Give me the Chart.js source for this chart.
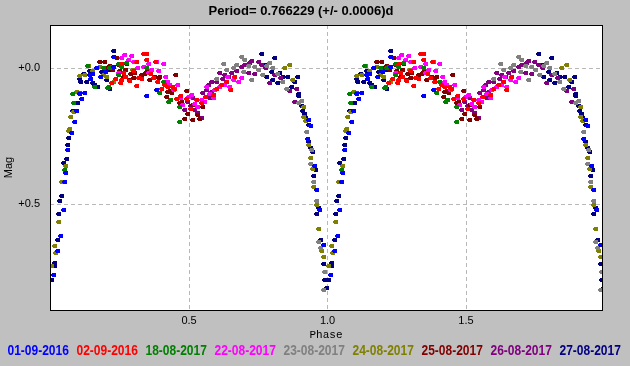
<!DOCTYPE html>
<html>
<head>
<meta charset="utf-8">
<script src="https://cdn.jsdelivr.net/npm/chart.js@4/dist/chart.umd.min.js"></script>
<style>
html,body{margin:0;padding:0;background:#c0c0c0;}
canvas{display:block;}
</style>
</head>
<body>
<canvas id="c" width="630" height="366"></canvas>
<script>
// ---------- data ----------
const titleText = 'Period= 0.766229 (+/- 0.0006)d';
const xAxisTitle = 'Phase';
const yAxisTitle = 'Mag';
const xTickValues = [0.5, 1.0, 1.5];
const xTickLabels = ['0.5', '1.0', '1.5'];
const yTickValues = [0.0, 0.5];
const yTickLabels = ['+0.0', '+0.5'];
const seriesLabels = ['01-09-2016','02-09-2016','18-08-2017','22-08-2017','23-08-2017','24-08-2017','25-08-2017','26-08-2017','27-08-2017'];
const seriesColors = ['#0000ff','#ff0000','#008000','#ff00ff','#808080','#808000','#800000','#800080','#000080'];

// [phase, mag] pairs, one cycle (plotted again at phase+1)
const d01_09_2016 = [[0.009,0.762],[0.025,0.674],[0.037,0.617],[0.045,0.523],[0.051,0.420],[0.054,0.384],[0.061,0.300],[0.075,0.239],[0.087,0.196],[0.093,0.156],[0.105,0.095],[0.111,0.114],[0.123,0.090],[0.139,0.025],[0.146,0.040],[0.153,0.021],[0.166,0.000],[0.180,0.030],[0.200,0.012],[0.226,-0.006],[0.228,-0.043],[0.348,0.102],[0.382,0.080],[0.926,0.261],[0.933,0.190],[0.939,0.212],[0.954,0.359],[0.962,0.447],[0.972,0.523],[0.986,0.650]];
const d02_09_2016 = [[0.220,0.055],[0.235,0.040],[0.252,0.055],[0.256,-0.018],[0.256,0.043],[0.262,0.018],[0.270,0.030],[0.285,0.045],[0.298,0.008],[0.310,-0.024],[0.311,0.066],[0.318,0.035],[0.328,0.040],[0.336,-0.053],[0.346,-0.031],[0.346,-0.055],[0.360,0.020],[0.372,0.035],[0.380,-0.024],[0.385,0.050],[0.400,0.077],[0.412,0.060],[0.424,0.070],[0.442,0.068],[0.448,0.074],[0.455,0.114],[0.470,0.100],[0.490,0.114],[0.505,0.150],[0.527,0.117],[0.545,0.129],[0.560,0.105],[0.587,0.098],[0.600,0.075],[0.618,0.060],[0.635,0.049],[0.648,0.080],[0.665,0.031]];
const d18_08_2017 = [[0.050,0.374],[0.074,0.237],[0.081,0.096],[0.084,0.126],[0.105,0.090],[0.132,-0.010],[0.160,0.068],[0.190,0.000],[0.205,0.071],[0.208,0.068],[0.214,0.000],[0.220,-0.006],[0.244,0.025],[0.244,-0.018],[0.256,-0.006],[0.274,-0.021],[0.346,0.000],[0.394,0.092],[0.406,0.049],[0.427,0.123],[0.433,0.118],[0.466,0.141],[0.466,0.196]];
const d22_08_2017 = [[0.244,0.018],[0.255,-0.040],[0.268,-0.049],[0.280,-0.030],[0.292,-0.045],[0.298,-0.024],[0.315,0.000],[0.334,-0.006],[0.352,0.018],[0.352,-0.016],[0.365,0.005],[0.382,-0.024],[0.390,0.009],[0.406,-0.016],[0.415,0.030],[0.424,0.049],[0.430,0.061],[0.445,0.080],[0.460,0.061],[0.470,0.110],[0.478,0.135],[0.497,0.104],[0.509,0.098],[0.520,0.130],[0.532,0.141],[0.545,0.115],[0.557,0.123],[0.563,0.068],[0.575,0.095],[0.587,0.110],[0.593,0.080],[0.610,0.070],[0.629,0.061],[0.639,0.031],[0.647,0.068],[0.659,0.043],[0.677,0.049],[0.690,0.035]];
const d23_08_2017 = [[0.600,0.040],[0.623,-0.018],[0.635,0.006],[0.660,0.000],[0.671,-0.012],[0.689,-0.043],[0.695,0.012],[0.700,-0.030],[0.715,-0.010],[0.725,0.043],[0.737,-0.006],[0.750,0.005],[0.765,0.025],[0.780,-0.010],[0.791,-0.021],[0.803,0.000],[0.820,0.020],[0.839,0.049],[0.852,0.077],[0.897,0.129],[0.906,0.119],[0.924,0.233],[0.938,0.353],[0.942,0.300],[0.950,0.420],[0.960,0.490],[0.966,0.638],[0.974,0.662],[0.984,0.815],[0.990,0.751]];
const d24_08_2017 = [[0.003,0.729],[0.013,0.656],[0.019,0.680],[0.027,0.564],[0.039,0.417],[0.054,0.358],[0.066,0.229],[0.069,0.223],[0.072,0.180],[0.084,0.160],[0.093,0.086],[0.105,0.028],[0.123,0.025],[0.132,-0.010],[0.136,-0.008],[0.150,0.010],[0.178,-0.006],[0.190,0.025],[0.202,0.031],[0.226,0.049],[0.296,0.006],[0.846,0.000],[0.864,-0.012],[0.875,0.043],[0.912,0.141],[0.912,0.180],[0.921,0.193],[0.924,0.190],[0.930,0.282],[0.939,0.331],[0.945,0.371],[0.950,0.435],[0.962,0.503],[0.969,0.592],[0.978,0.674],[0.986,0.695]];
const d25_08_2017 = [[0.178,-0.024],[0.196,-0.024],[0.200,0.000],[0.212,-0.010],[0.225,0.005],[0.238,-0.040],[0.244,-0.012],[0.250,0.010],[0.262,0.030],[0.270,0.005],[0.274,-0.016],[0.286,0.043],[0.290,0.020],[0.300,0.035],[0.304,0.018],[0.322,0.037],[0.330,0.025],[0.340,0.020],[0.346,-0.031],[0.346,0.012],[0.358,0.043],[0.376,0.031],[0.388,0.037],[0.394,0.031],[0.418,0.104],[0.424,0.086],[0.430,0.082],[0.436,0.092],[0.451,0.025],[0.466,0.129],[0.473,0.123],[0.484,0.188],[0.490,0.082],[0.496,0.168],[0.514,0.135],[0.514,0.190],[0.532,0.172],[0.539,0.188],[0.550,0.141]];
const d26_08_2017 = [[0.484,0.153],[0.496,0.123],[0.505,0.140],[0.514,0.110],[0.520,0.153],[0.530,0.165],[0.545,0.184],[0.550,0.092],[0.563,0.080],[0.569,0.061],[0.575,0.110],[0.581,0.086],[0.581,0.049],[0.599,0.049],[0.611,0.018],[0.620,0.040],[0.629,0.025],[0.641,0.031],[0.653,0.018],[0.659,0.043],[0.670,0.010],[0.689,-0.006],[0.695,0.012],[0.701,-0.012],[0.713,0.018],[0.718,-0.020],[0.725,-0.028],[0.737,0.020],[0.749,-0.024],[0.761,-0.012],[0.775,0.000],[0.791,0.055],[0.809,0.025],[0.830,0.035],[0.864,0.082],[0.882,0.123],[0.888,0.077]];
const d27_08_2017 = [[0.003,0.778],[0.013,0.715],[0.015,0.729],[0.025,0.631],[0.027,0.537],[0.033,0.487],[0.039,0.469],[0.045,0.347],[0.057,0.333],[0.061,0.282],[0.066,0.256],[0.079,0.156],[0.099,0.129],[0.104,0.040],[0.108,0.049],[0.118,0.020],[0.130,0.049],[0.141,0.009],[0.151,0.055],[0.160,0.061],[0.171,0.068],[0.184,0.012],[0.202,0.043],[0.208,0.006],[0.214,0.074],[0.228,-0.065],[0.761,-0.053],[0.777,-0.012],[0.779,0.031],[0.797,0.012],[0.803,0.043],[0.809,-0.040],[0.821,0.055],[0.827,0.018],[0.839,0.031],[0.857,0.031],[0.870,0.068],[0.882,0.049],[0.893,0.031],[0.897,0.094],[0.897,0.102],[0.906,0.139],[0.909,0.156],[0.918,0.168],[0.921,0.184],[0.930,0.208],[0.933,0.270],[0.938,0.294],[0.945,0.307],[0.950,0.396],[0.957,0.376],[0.962,0.536],[0.969,0.515],[0.974,0.631],[0.984,0.720],[0.990,0.778],[0.998,0.809]];

const seriesData = [d01_09_2016,d02_09_2016,d18_08_2017,d22_08_2017,d23_08_2017,d24_08_2017,d25_08_2017,d26_08_2017,d27_08_2017];

// ---------- helpers ----------
function marker(color){
  const c = document.createElement('canvas');
  c.width = 5; c.height = 4;
  const g = c.getContext('2d');
  g.fillStyle = color;
  g.fillRect(1,0,4,4);
  g.fillRect(0,1,1,2);
  return c;
}
function twoCycles(pts){
  return pts.map(p => ({x:p[0], y:p[1]})).concat(pts.map(p => ({x:p[0]+1, y:p[1]})));
}

const FONT = "'Liberation Sans', Arial, sans-serif";

const datasets = seriesData.map((pts,i) => ({
  label: seriesLabels[i],
  data: twoCycles(pts),
  pointStyle: marker(seriesColors[i]),
  pointRadius: 2,
  pointBorderWidth: 0,
  backgroundColor: seriesColors[i],
  borderColor: seriesColors[i],
  showLine: false
}));

const framePlugin = {
  id: 'frame',
  beforeDraw(chart){
    const {ctx, chartArea:a} = chart;
    ctx.save();
    ctx.fillStyle = '#c0c0c0';
    ctx.fillRect(0,0,chart.width,chart.height);
    ctx.fillStyle = '#ffffff';
    ctx.fillRect(a.left,a.top,a.right-a.left,a.bottom-a.top);
    ctx.restore();
  },
  beforeDatasetsDraw(chart){
    chart.ctx.imageSmoothingEnabled = false;
  },
  afterDraw(chart){
    const {ctx, chartArea:a} = chart;
    ctx.save();
    ctx.strokeStyle = '#000';
    ctx.lineWidth = 1;
    ctx.setLineDash([]);
    ctx.strokeRect(a.left+0.5, a.top+0.5, a.right-a.left, a.bottom-a.top);
    // colored legend
    ctx.font = 'bold 12px ' + FONT;
    ctx.textBaseline = 'middle';
    ctx.textAlign = 'left';
    chart.data.datasets.forEach((ds,i) => {
      ctx.save();
      ctx.translate(7.5 + i*69, 350.5);
      ctx.scale(1, 1.25);
      ctx.fillStyle = ds.borderColor;
      ctx.fillText(ds.label, 0, 0);
      ctx.restore();
    });
    ctx.restore();
  }
};

new Chart(document.getElementById('c'), {
  type: 'scatter',
  data: { datasets },
  plugins: [framePlugin],
  options: {
    responsive: false,
    animation: false,
    events: [],
    layout: { padding: { left: 0, right: 28, top: 0, bottom: 0 } },
    plugins: {
      legend: { display: false },
      tooltip: { enabled: false },
      title: {
        display: true,
        text: titleText,
        color: '#000',
        font: { family: FONT, size: 13, weight: 'bold' },
        padding: { top: 4, bottom: 5.4 }
      }
    },
    scales: {
      x: {
        type: 'linear',
        min: -0.002,
        max: 1.991,
        afterBuildTicks: s => { s.ticks = xTickValues.map(v => ({value: v})); },
        afterFit: s => { s.height = 56; },
        ticks: {
          color: '#000',
          font: { family: FONT, size: 11 },
          padding: 4,
          maxRotation: 0,
          callback: (v, i) => xTickLabels[i]
        },
        grid: { color: '#b8b8b8', lineWidth: 1, drawTicks: false },
        border: { display: false, dash: [4, 3] },
        title: {
          display: true,
          text: xAxisTitle,
          color: '#000',
          font: { family: "'Liberation Mono', 'Courier New', monospace", size: 11 },
          padding: { top: 0, bottom: 24 }
        }
      },
      y: {
        type: 'linear',
        reverse: true,
        min: -0.16,
        max: 0.89,
        afterBuildTicks: s => { s.ticks = yTickValues.map(v => ({value: v})); },
        afterFit: s => { s.width = 50; },
        ticks: {
          color: '#000',
          font: { family: FONT, size: 11 },
          padding: 10,
          callback: (v, i) => yTickLabels[i]
        },
        grid: { color: '#b8b8b8', lineWidth: 1, drawTicks: false },
        border: { display: false, dash: [4, 3] },
        title: {
          display: true,
          text: yAxisTitle,
          color: '#000',
          font: { family: FONT, size: 11 },
          padding: { top: 2, bottom: 0 }
        }
      }
    }
  }
});
</script>
</body>
</html>
